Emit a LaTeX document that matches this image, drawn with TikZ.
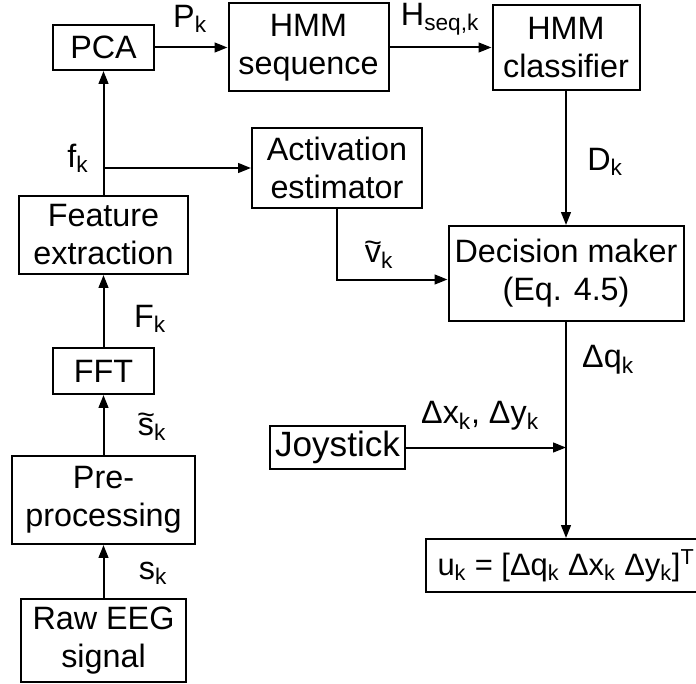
\documentclass[tikz,border=0pt]{standalone}
\usepackage{fontspec}
\setmainfont{Liberation Sans}
\usetikzlibrary{positioning,arrows.meta,calc}

\newcommand{\tildeover}[1]{\ooalign{#1\cr\hidewidth\raisebox{0.32em}{\scalebox{0.95}[0.9]{\textasciitilde}}\hidewidth\cr}}

\begin{document}
\begin{tikzpicture}[
    x=0.25mm, y=-0.25mm,
    font=\fontsize{23}{27}\selectfont,
    line/.style={-{Triangle[length=3.2mm,width=2.4mm]}, line width=0.5mm},
    block/.style={
        draw, line width=0.5mm,
        align=center,
        inner sep=1pt,
        fill=white
    },
    lbl/.style={inner sep=0pt}
]
\useasboundingbox (0,0) rectangle (696,683);

% EEG chain, bottom to top
\node[block, minimum width=41.25mm, minimum height=20.75mm] (raw) at (103.5,640.5) {Raw EEG\\signal};
\node[block, minimum width=45.75mm, minimum height=22mm, above=13.25mm of raw] (pre) {Pre-\\processing};
\node[block, minimum width=25.25mm, minimum height=11.5mm, above=15mm of pre] (fft) {FFT};
\node[block, minimum width=42mm, minimum height=19.5mm, above=18mm of fft] (feat) {Feature\\extraction};
\node[block, minimum width=25mm, minimum height=11.25mm, above=31mm of feat] (pca) {PCA};

% HMM branch
\node[block, minimum width=40mm, minimum height=22mm, right=18.25mm of pca] (hmmseq) {HMM\\sequence};
\node[block, minimum width=36.75mm, minimum height=21.25mm, right=25.5mm of hmmseq] (hmmcls) {HMM\\classifier};
\node[block, minimum width=58.75mm, minimum height=23.75mm, below=33.5mm of hmmcls] (dec) {Decision maker\\(Eq. 4.5)};
\node[block, minimum width=70mm, minimum height=13.25mm, below=54mm of dec, font=\fontsize{22}{27}\selectfont] (out) {u\textsubscript{k} = [Δq\textsubscript{k} Δx\textsubscript{k} Δy\textsubscript{k}]\textsuperscript{T}};

% side blocks
\node[block, minimum width=42.5mm, minimum height=20mm] (act) at (337,168) {Activation\\estimator};
\node[block, minimum width=33.75mm, minimum height=10.75mm, font=\fontsize{25}{27}\selectfont] (joy) at (337.5,447.5) {Joystick};

% arrows
\draw[line] (raw.north) -- (pre.south);
\draw[line] (pre.north) -- (fft.south);
\draw[line] (fft.north) -- (feat.south);
\draw[line] (feat.north) -- (pca.south);
\draw[line] (feat.north |- act.west) -- (act.west);
\draw[line] (pca.east) -- (pca.east -| hmmseq.west);
\draw[line] (hmmseq.east) -- (hmmseq.east -| hmmcls.west);
\draw[line] (hmmcls.south) -- (dec.north);
\draw[line] (act.south) |- ($(dec.west)+(0,6)$);
\draw[line] (dec.south) -- (out.north);
\draw[line] (joy.east) -- (joy.east -| dec.south);

% signal labels
\node[lbl] (lP) at (190,19) {P\textsubscript{k}};
\node[lbl] (lH) at (440,19) {H\textsubscript{seq,k}};
\node[lbl] (lf) at (78,158) {f\textsubscript{k}};
\node[lbl] (lD) at (605,162) {D\textsubscript{k}};
\node[lbl] (lv) at (379,257) {\tildeover{v}\textsubscript{k}};
\node[lbl] (lq) at (608,360) {Δq\textsubscript{k}};
\node[lbl] (lxy) at (480,416) {Δx\textsubscript{k}, Δy\textsubscript{k}};
\node[lbl] (lF) at (150,319) {F\textsubscript{k}};
\node[lbl] (ls2) at (152,429) {\tildeover{s}\textsubscript{k}};
\node[lbl] (ls) at (153,573) {s\textsubscript{k}};

\end{tikzpicture}
\end{document}
